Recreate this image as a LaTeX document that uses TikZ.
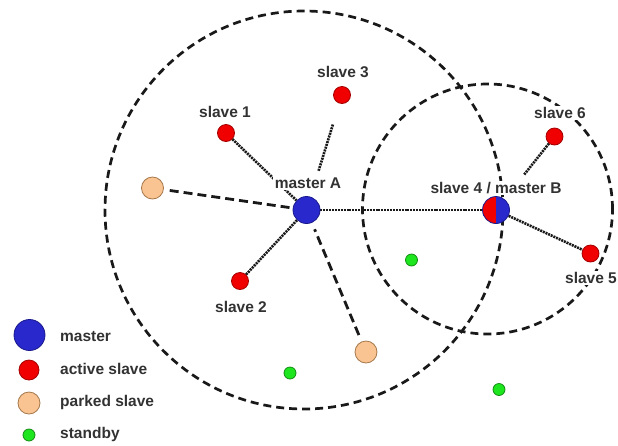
\documentclass[tikz,border=0pt]{standalone}
\usepackage{fontspec}
\setmainfont{Liberation Sans}
\usetikzlibrary{backgrounds}
\definecolor{mblue}{RGB}{40,40,205}
\definecolor{mblueedge}{RGB}{25,25,140}
\definecolor{ared}{RGB}{240,0,0}
\definecolor{arededge}{RGB}{165,0,0}
\definecolor{peach}{RGB}{250,196,146}
\definecolor{peachedge}{RGB}{165,120,75}
\definecolor{sgreen}{RGB}{30,230,30}
\definecolor{sgreenedge}{RGB}{20,140,20}
\definecolor{txt}{RGB}{50,50,50}
\definecolor{ln}{RGB}{25,25,25}
\tikzset{
  dev/.style={circle, inner sep=0pt, line width=0.8pt},
  masterdev/.style={dev, fill=mblue, draw=mblueedge, minimum size=27pt},
  activedev/.style={dev, fill=ared, draw=arededge, minimum size=17pt},
  parkeddev/.style={dev, fill=peach, draw=peachedge, minimum size=22pt},
  standbydev/.style={dev, fill=sgreen, draw=sgreenedge, minimum size=12pt},
  lbl/.style={font=\fontsize{15.5}{18}\selectfont\bfseries, text=txt, fill=white, inner sep=1.5pt},
  leg/.style={font=\fontsize{15.5}{18}\selectfont\bfseries, text=txt, anchor=west, inner sep=0pt},
  link/.style={draw=ln, line width=2.6pt, dash pattern=on 2pt off 0.9pt},
  parklink/.style={draw=ln, line width=2.8pt, dash pattern=on 9pt off 5pt},
  rangecircle/.style={draw=ln, line width=2.7pt, dash pattern=on 8pt off 5pt},
}
\begin{document}
\begin{tikzpicture}[x=1pt,y=-1pt]
\useasboundingbox (0,0) rectangle (618,445);
% devices
\node[masterdev] (mA) at (306.5,210) {};
\node[activedev] (s1) at (226,133) {};
\node[activedev] (s3) at (342,95) {};
\node[activedev] (s2) at (240,281) {};
\node[activedev] (s6) at (554.5,136.5) {};
\node[activedev] (s5) at (590.5,253.5) {};
\node[dev, minimum size=27pt, draw=mblueedge,
  path picture={
    \fill[ared] (path picture bounding box.south west) rectangle (path picture bounding box.north);
    \fill[mblue] (path picture bounding box.south) rectangle (path picture bounding box.north east);
  }] (s4) at (496,210) {};
\node[parkeddev] (p1) at (152.5,188) {};
\node[parkeddev] (p2) at (366,352) {};
\node[standbydev] (g1) at (411.5,260) {};
\node[standbydev] (g2) at (290,373) {};
\node[standbydev] (g3) at (499,389.5) {};
% labels
\node[lbl] (lmA) at (308,183) {master A};
\node[lbl] (ls1) at (225,112) {slave 1};
\node[lbl] (ls3) at (343,72) {slave 3};
\node[lbl] (ls6) at (560,113) {slave 6};
\node[lbl] (ls4) at (496,188) {slave 4 / master B};
\node[lbl] (ls5) at (591,278) {slave 5};
\node[lbl] (ls2) at (241,307) {slave 2};
% legend
\node[masterdev, minimum size=31pt] (kmaster) at (29.5,335) {};
\node[activedev, minimum size=20pt] (kactive) at (29,370) {};
\node[parkeddev, minimum size=22pt] (kparked) at (29,403) {};
\node[standbydev, minimum size=12pt] (kstandby) at (29,435) {};
\node[leg] (tmaster) at (60,337) {master};
\node[leg] (tactive) at (60,369) {active slave};
\node[leg] (tparked) at (60,402) {parked slave};
\node[leg] (tstandby) at (60,434) {standby};
\begin{pgfonlayer}{background}
  \coordinate (cA) at (304,210);
  \coordinate (cB) at (487.5,209);
  \draw[rangecircle] (cA) circle[radius=199pt];
  \draw[rangecircle] (cB) circle[radius=125pt];
  \draw[link] (s1) -- (mA);
  \draw[link, shorten <=22pt, shorten >=27pt] (s3) -- (mA);
  \draw[link] (s2) -- (mA);
  \draw[parklink, shorten <=6pt] (p1) -- (mA);
  \draw[parklink, shorten <=7pt, shorten >=7pt] (p2) -- (mA);
  \draw[link] (mA) -- (s4);
  \draw[link, shorten >=31pt] (s6) -- (s4);
  \draw[link] (s4) -- (s5);
\end{pgfonlayer}
\end{tikzpicture}
\end{document}
